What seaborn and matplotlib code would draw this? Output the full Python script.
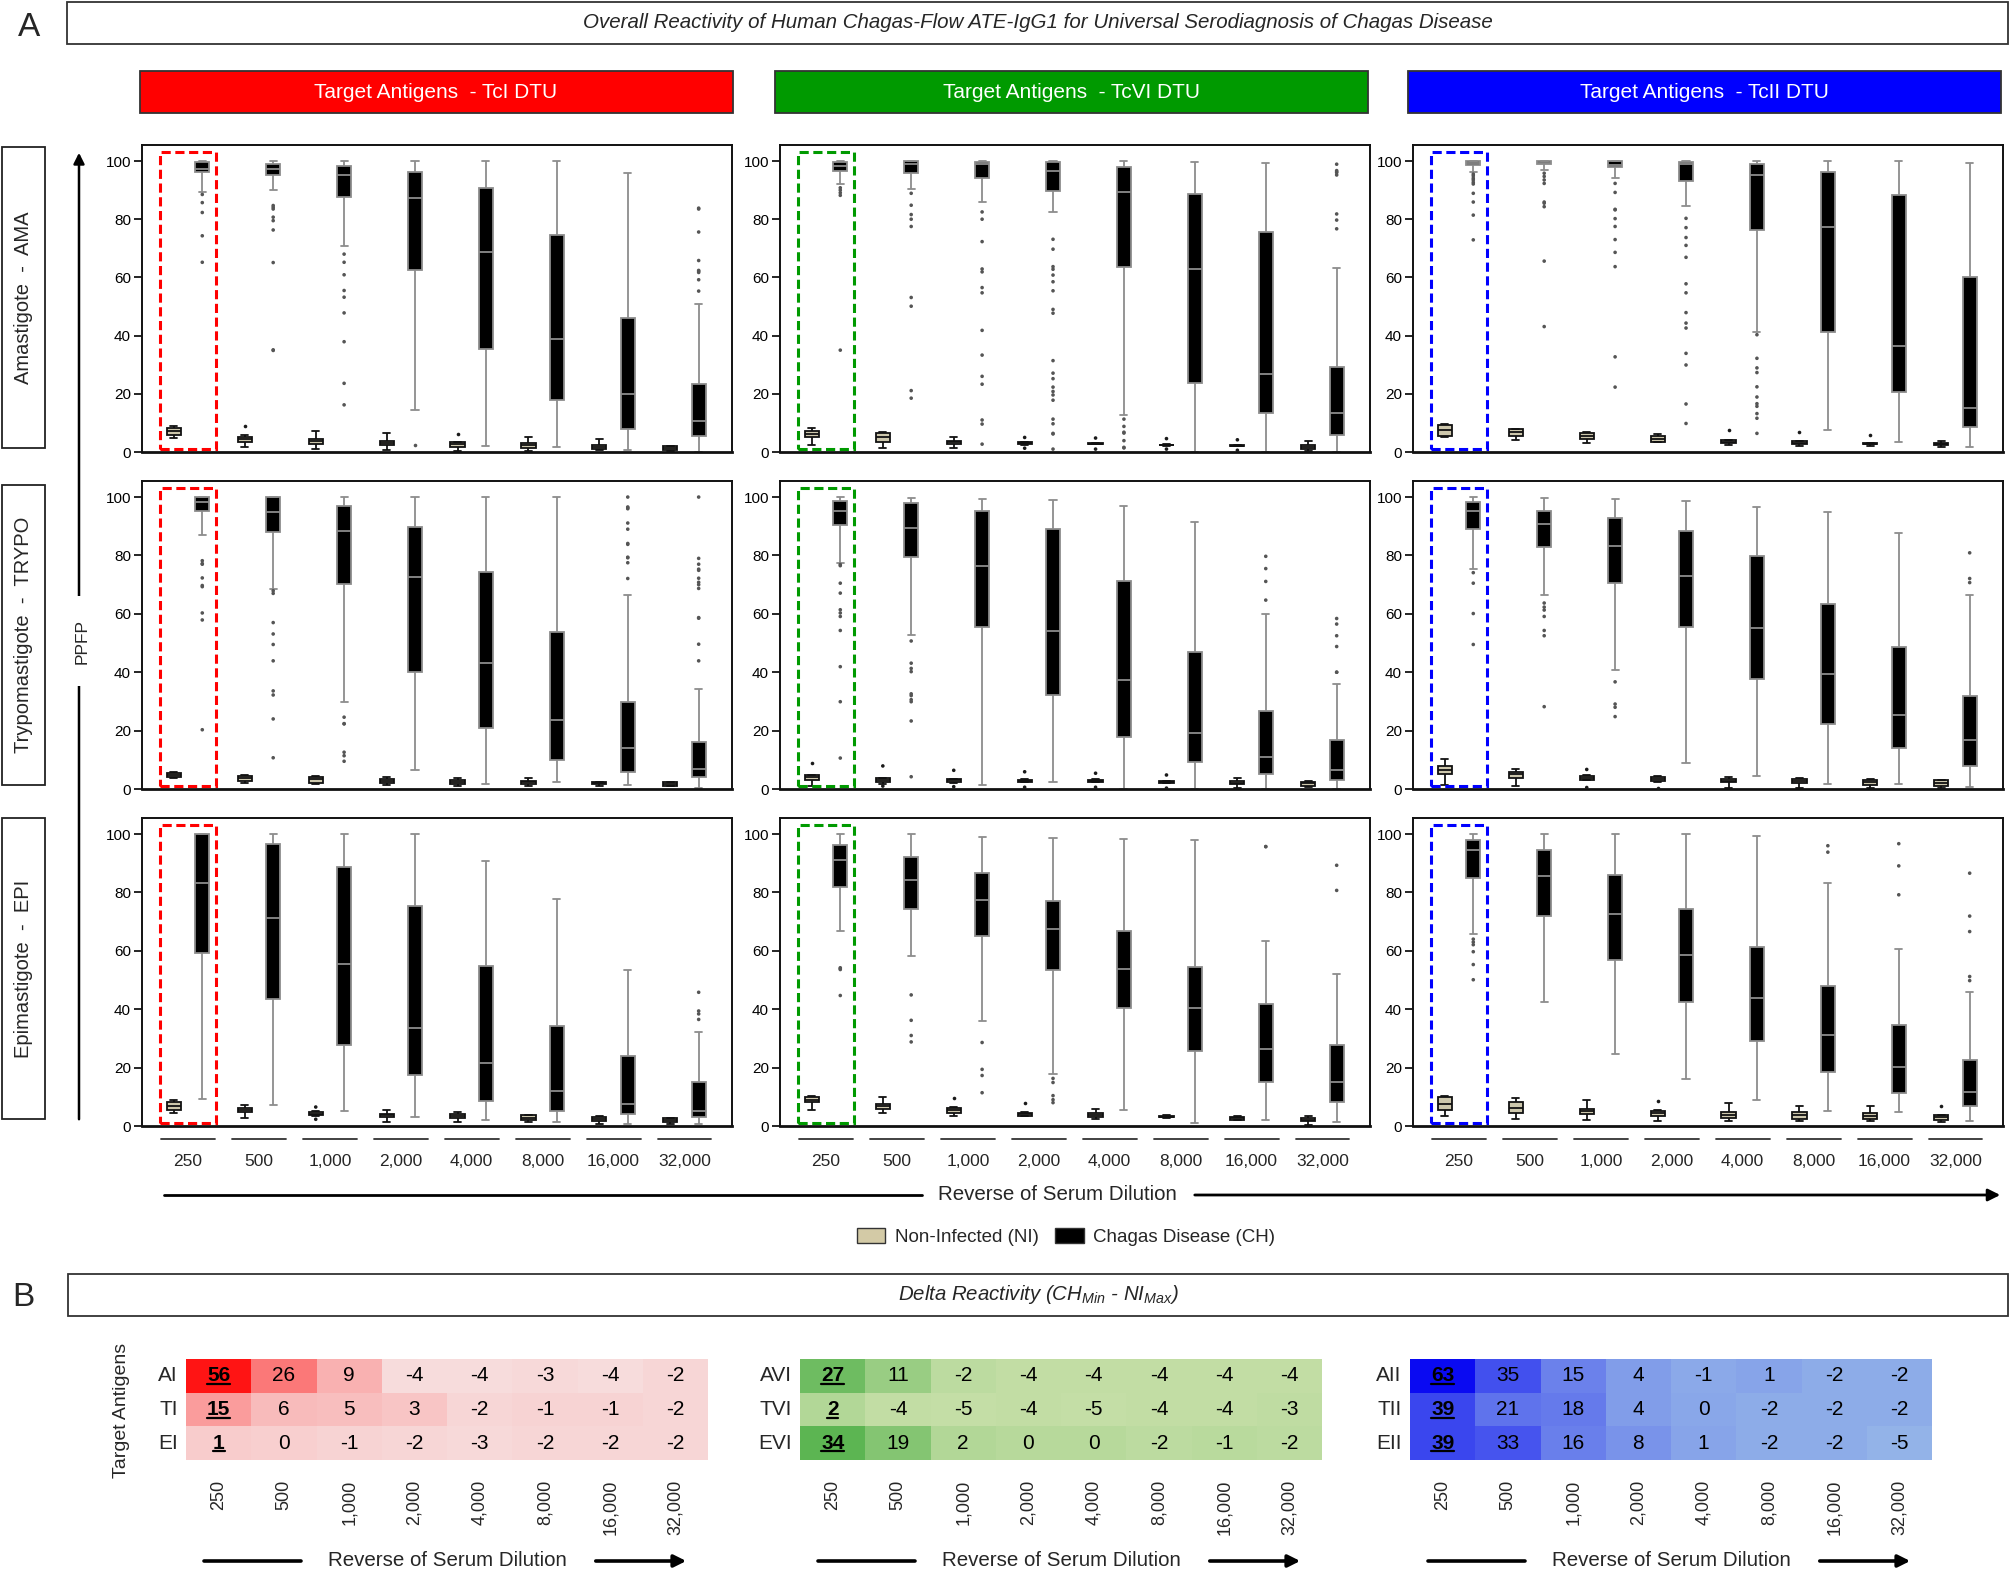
import numpy as np
import pandas as pd
import matplotlib
matplotlib.use("Agg")
import matplotlib.pyplot as plt
import seaborn as sns
from matplotlib.patches import Rectangle, FancyArrowPatch, Patch
from matplotlib.lines import Line2D
from matplotlib.colors import LinearSegmentedColormap
from matplotlib.transforms import blended_transform_factory

sns.set_theme(style="ticks")
plt.rcParams["font.family"] = ["Liberation Sans", "DejaVu Sans"]
plt.rcParams["mathtext.fontset"] = "custom"
plt.rcParams["mathtext.it"] = "Liberation Sans:italic"
plt.rcParams["mathtext.rm"] = "Liberation Sans:italic"

# ---------------------------------------------------------------- data
DILUTIONS = ["250", "500", "1,000", "2,000", "4,000", "8,000", "16,000", "32,000"]
DTUS = ["TcI", "TcVI", "TcII"]
STAGES = ["AMA", "TRYPO", "EPI"]
STAGE_LABELS = ["Amastigote  -  AMA", "Trypomastigote  -  TRYPO", "Epimastigote  -  EPI"]
GROUPS = ["NI", "CH"]
GROUP_LABELS = ["Non-Infected (NI)", "Chagas Disease (CH)"]

# five-number summaries per dilution: [lower whisker, Q1, median, Q3, upper whisker]
AMA_I_NI = [[4.8, 5.9, 7.1, 8.1, 9.0], [1.8, 3.5, 4.5, 5.3, 5.8], [1.0, 2.6, 3.7, 4.6, 7.1], [0.8, 2.3, 3.2, 3.9, 6.4],
            [0.2, 1.8, 2.6, 3.3, 3.6], [0.5, 1.3, 2.3, 3.2, 5.1], [0.6, 1.0, 1.8, 2.4, 4.5], [0.2, 0.6, 1.3, 1.9, 2.2]]
AMA_I_CH = [[89.5, 96.2, 97.3, 99.8, 100], [89.9, 95.1, 97.4, 99.1, 100], [70.8, 87.5, 95.2, 98.3, 100], [14.5, 62.7, 87.4, 96.2, 100],
            [2.2, 35.4, 68.8, 90.7, 100], [1.8, 17.8, 38.7, 74.7, 100], [0.8, 8.0, 19.8, 46.1, 95.8], [0.0, 5.6, 10.8, 23.5, 50.7]]
AMA_I_NI_OUT = [[], [9.0], [], [], [6.3], [], [], []]
AMA_I_CH_OUT = [[88.5, 85.7, 82.3, 74.3, 65.2], [84.7, 83.5, 84.1, 80.7, 79.5, 76.3, 65.1, 34.9, 35.1],
                [68.0, 65.2, 60.9, 55.5, 53.2, 47.8, 37.9, 23.6, 16.2], [2.4], [], [], [],
                [83.5, 83.8, 75.6, 65.8, 62.1, 62.4, 61.7, 59.2, 55.3]]

AMA_VI_NI = [[2.3, 5.0, 6.3, 7.3, 8.1], [1.4, 3.5, 5.0, 6.5, 6.9], [1.4, 2.7, 3.3, 3.9, 5.0], [2.4, 2.6, 3.1, 3.4, 3.6],
             [2.6, 2.8, 2.9, 3.0, 3.2], [2.2, 2.3, 2.4, 2.5, 2.6], [2.0, 2.1, 2.2, 2.3, 2.4], [0.2, 0.9, 1.7, 2.3, 3.9]]
AMA_VI_CH = [[92.0, 96.5, 98.3, 99.5, 100], [90.4, 95.8, 99.0, 99.9, 100], [85.9, 94.3, 98.9, 99.7, 100], [82.6, 89.8, 96.6, 99.5, 100],
             [12.8, 63.6, 89.2, 98.0, 100], [0.0, 23.8, 63.0, 88.8, 99.7], [0.0, 13.4, 26.8, 75.6, 99.2], [0.0, 5.8, 13.5, 29.1, 63.4]]
AMA_VI_NI_OUT = [[], [], [], [5.0, 1.3], [4.8, 1.0], [4.6, 1.0], [4.2, 0.6], []]
AMA_VI_CH_OUT = [[90.8, 90.0, 89.1, 88.2, 35.0], [88.9, 84.8, 81.6, 80.0, 77.5, 53.1, 50.1, 21.1, 18.5],
                 [82.5, 80.0, 72.3, 62.9, 61.9, 56.5, 54.7, 41.8, 33.3, 26.0, 23.3, 11.0, 9.6, 2.7],
                 [73.1, 69.7, 63.7, 62.8, 60.8, 58.5, 55.4, 49.0, 47.7, 31.4, 27.1, 25.2, 22.3, 20.8, 19.6, 17.8, 11.3, 9.7, 6.4, 6.2, 1.0],
                 [11.3, 8.8, 6.8, 6.5, 3.9, 1.6, 1.4], [], [], [98.9, 96.7, 96.3, 96.0, 95.2, 81.8, 79.7, 76.7]]

AMA_II_NI = [[5.0, 5.5, 7.4, 9.4, 9.7], [4.0, 5.5, 6.8, 7.8, 8.0], [3.1, 4.5, 5.5, 6.6, 6.9], [3.5, 3.6, 4.6, 5.4, 6.3],
             [2.4, 3.0, 3.5, 4.0, 4.2], [2.1, 2.7, 3.2, 3.7, 3.9], [1.9, 2.6, 2.8, 3.0, 3.1], [1.6, 2.4, 2.8, 3.1, 3.9]]
AMA_II_CH = [[96.1, 98.5, 99.4, 100, 100], [96.9, 99.0, 99.4, 100, 100], [94.1, 97.8, 98.7, 100, 100], [84.4, 93.0, 99.0, 99.8, 100],
             [41.4, 76.3, 95.3, 99.0, 100], [7.6, 41.3, 77.3, 96.3, 100], [3.3, 20.7, 36.3, 88.2, 100], [1.8, 8.5, 15.0, 60.0, 99.4]]
AMA_II_NI_OUT = [[], [], [], [], [7.7], [6.8], [5.8], []]
AMA_II_CH_OUT = [[95.5, 94.9, 94.1, 93.5, 92.7, 92.1, 88.9, 85.9, 81.4, 72.9], [95.8, 94.7, 93.5, 92.3, 85.9, 85.5, 84.3, 65.6, 43.1],
                 [92.3, 89.2, 83.4, 83.2, 80.2, 77.5, 73.0, 68.6, 63.7, 32.7, 22.3],
                 [80.3, 77.1, 73.7, 71.0, 66.9, 57.8, 54.7, 47.9, 44.3, 42.6, 33.9, 29.9, 16.5, 9.8],
                 [40.3, 32.2, 28.9, 27.3, 22.4, 18.9, 16.6, 15.7, 13.2, 11.6, 6.4], [], [], []]

TRYPO_I_NI = [[3.8, 4.1, 4.9, 5.6, 5.8], [2.1, 2.7, 3.7, 4.3, 4.8], [1.6, 2.2, 3.3, 4.1, 4.5], [1.3, 2.1, 2.9, 3.5, 4.0],
              [1.1, 1.8, 2.5, 3.1, 3.8], [0.9, 1.6, 2.3, 2.9, 3.7], [0.9, 1.8, 2.2, 2.4, 2.5], [0.9, 1.1, 1.7, 2.3, 2.4]]
TRYPO_I_CH = [[86.9, 95.1, 98.2, 100, 100], [68.5, 87.9, 95.0, 100, 100], [29.7, 70.2, 88.5, 96.8, 100], [6.5, 40.0, 72.7, 89.9, 100],
              [1.8, 21.0, 43.3, 74.5, 100], [2.3, 9.8, 23.7, 53.7, 100], [1.4, 5.7, 13.9, 29.9, 66.3], [0.5, 4.1, 6.7, 16.2, 34.3]]
TRYPO_I_NI_OUT = [[], [], [], [], [], [], [], []]
TRYPO_I_CH_OUT = [[77.0, 77.2, 78.2, 72.3, 69.7, 69.3, 60.3, 57.9, 20.3], [67.9, 67.0, 57.0, 53.1, 49.5, 43.9, 33.6, 32.2, 24.0, 10.7],
                  [24.6, 22.3, 22.4, 12.6, 11.4, 9.5], [], [], [],
                  [100, 96.0, 96.3, 96.6, 91.1, 89.0, 84.1, 83.8, 79.4, 79.2, 77.5, 72.1],
                  [100, 79.0, 77.0, 75.3, 74.9, 72.2, 70.8, 70.0, 68.7, 58.7, 58.5, 49.6, 43.9]]

TRYPO_VI_NI = [[1.1, 3.1, 4.0, 4.8, 4.9], [1.8, 2.3, 3.1, 3.7, 3.9], [2.0, 2.4, 3.0, 3.3, 3.5], [2.3, 2.5, 2.9, 3.2, 3.4],
               [2.3, 2.5, 2.9, 3.2, 3.4], [1.9, 2.1, 2.4, 2.7, 2.9], [0.3, 1.7, 2.2, 2.6, 3.8], [0.7, 0.9, 1.9, 2.5, 2.6]]
TRYPO_VI_CH = [[77.4, 90.5, 95.2, 98.7, 100], [52.7, 79.4, 89.5, 98.1, 99.8], [1.3, 55.5, 76.5, 95.3, 99.5], [2.3, 32.3, 54.2, 88.9, 99.0],
               [0.0, 17.7, 37.4, 71.3, 97.1], [0.0, 9.3, 19.3, 47.0, 91.3], [0.0, 5.3, 11.0, 26.7, 59.9], [0.0, 3.2, 6.6, 16.9, 36.0]]
TRYPO_VI_NI_OUT = [[8.9], [7.9, 1.0], [6.4, 0.8], [5.9, 0.6], [5.4, 0.6], [4.8, 0.3], [], []]
TRYPO_VI_CH_OUT = [[76.9, 76.5, 70.5, 67.1, 61.4, 60.3, 59.1, 54.3, 41.9, 29.9, 10.6],
                   [50.7, 43.1, 41.3, 40.2, 32.6, 32.0, 30.6, 29.9, 23.3, 4.2], [], [], [], [],
                   [79.7, 75.5, 71.1, 64.7], [58.4, 56.5, 52.5, 48.8, 40.0, 40.0]]

TRYPO_II_NI = [[1.5, 5.3, 6.6, 7.8, 10.3], [0.9, 3.8, 5.0, 5.7, 6.9], [3.0, 3.2, 3.9, 4.6, 4.8], [2.5, 2.7, 3.5, 4.2, 4.4],
               [0.3, 2.3, 2.9, 3.4, 4.1], [0.5, 2.2, 2.9, 3.4, 3.6], [0.5, 1.5, 2.5, 3.2, 3.4], [0.3, 1.0, 2.2, 3.0, 3.2]]
TRYPO_II_CH = [[75.4, 89.1, 95.3, 98.2, 100], [66.3, 82.9, 90.9, 95.3, 99.8], [40.9, 70.7, 83.4, 92.7, 99.5], [8.9, 55.4, 72.9, 88.3, 98.5],
               [4.3, 37.7, 55.1, 79.7, 96.5], [1.7, 22.3, 39.5, 63.5, 95.0], [1.6, 14.1, 25.5, 48.8, 87.8], [0.7, 7.9, 16.8, 31.9, 66.5]]
TRYPO_II_NI_OUT = [[], [], [6.7, 0.5], [0.5], [], [], [], []]
TRYPO_II_CH_OUT = [[74.1, 70.5, 60.1, 49.5], [63.7, 62.3, 61.3, 59.1, 54.3, 52.5, 28.2], [36.7, 29.1, 28.0, 24.8],
                   [], [], [], [], [80.9, 72.1, 70.7]]

EPI_I_NI = [[4.5, 5.4, 6.9, 8.2, 9.0], [2.7, 4.8, 5.6, 6.3, 7.2], [3.5, 3.7, 4.2, 4.8, 5.0], [1.3, 3.0, 3.7, 4.2, 5.5],
            [1.3, 2.6, 3.3, 4.0, 4.9], [1.2, 1.9, 2.9, 3.7, 3.9], [0.8, 1.8, 2.5, 3.1, 3.3], [0.8, 1.4, 2.2, 2.7, 2.8]]
EPI_I_CH = [[9.1, 59.3, 83.4, 100, 100], [7.1, 43.4, 71.3, 96.7, 100], [5.0, 27.9, 55.4, 88.8, 100], [3.2, 17.6, 33.6, 75.2, 100],
            [2.2, 8.7, 21.6, 54.9, 90.9], [1.4, 5.3, 12.1, 34.4, 77.7], [0.8, 4.0, 7.7, 23.9, 53.4], [0.8, 3.0, 5.3, 15.1, 32.3]]
EPI_I_NI_OUT = [[], [], [6.5, 2.3], [], [], [], [], []]
EPI_I_CH_OUT = [[], [], [], [], [], [], [], [45.8, 39.4, 38.4, 36.5]]

EPI_VI_NI = [[5.4, 8.1, 9.0, 9.9, 10.2], [4.6, 5.8, 6.9, 7.7, 9.9], [3.5, 4.5, 5.5, 6.3, 6.5], [3.3, 3.5, 4.1, 4.5, 4.7],
             [2.5, 3.1, 3.9, 4.5, 5.8], [2.8, 3.0, 3.2, 3.4, 3.6], [2.0, 2.2, 2.7, 3.1, 3.3], [0.5, 1.6, 2.2, 2.7, 3.4]]
EPI_VI_CH = [[66.9, 81.7, 91.1, 96.3, 100], [58.1, 74.4, 84.2, 92.1, 100], [36.1, 65.0, 77.3, 86.5, 98.9], [17.9, 53.6, 67.4, 77.0, 98.6],
             [5.4, 40.3, 53.8, 66.7, 98.3], [1.1, 25.7, 40.3, 54.6, 97.9], [2.1, 15.1, 26.5, 41.7, 63.5], [1.3, 8.1, 15.2, 27.8, 52.0]]
EPI_VI_NI_OUT = [[], [], [9.7], [8.0], [], [], [], []]
EPI_VI_CH_OUT = [[53.9, 53.6, 54.2, 44.7], [44.9, 36.2, 31.0, 28.8], [28.6, 19.4, 17.3, 11.4], [16.3, 14.9, 10.4, 9.0, 8.0],
                 [], [], [95.7, 95.7], [89.3, 80.7]]

EPI_II_NI = [[3.3, 5.5, 7.7, 9.9, 10.3], [2.4, 4.5, 6.3, 8.2, 9.5], [2.1, 4.0, 5.0, 5.9, 8.8], [1.7, 3.4, 4.5, 5.3, 5.5],
             [1.6, 2.7, 3.8, 4.7, 7.8], [1.6, 2.5, 3.8, 4.8, 6.9], [1.6, 2.4, 3.5, 4.6, 6.7], [1.4, 2.2, 3.0, 3.7, 3.9]]
EPI_II_CH = [[65.6, 84.8, 94.5, 98.1, 100], [42.6, 72.0, 85.7, 94.4, 100], [24.8, 56.9, 72.6, 85.9, 99.9], [16.2, 42.6, 58.5, 74.5, 99.9],
             [8.8, 29.0, 43.7, 61.3, 99.3], [5.1, 18.6, 31.3, 48.0, 83.4], [4.9, 11.3, 20.3, 34.5, 60.6], [1.6, 6.7, 11.7, 22.5, 45.8]]
EPI_II_NI_OUT = [[], [], [], [8.6], [], [], [], [6.9]]
EPI_II_CH_OUT = [[64.0, 63.0, 62.1, 59.7, 55.3, 50.1], [], [], [], [], [96.0, 93.8], [96.7, 89.1, 79.2],
                 [86.6, 71.9, 66.6, 51.2, 49.8]]

# Delta reactivity (CH min - NI max)
HM_ROWS_I = ["AI", "TI", "EI"]
HM_ROWS_VI = ["AVI", "TVI", "EVI"]
HM_ROWS_II = ["AII", "TII", "EII"]
HM_I = [[56, 26, 9, -4, -4, -3, -4, -2], [15, 6, 5, 3, -2, -1, -1, -2], [1, 0, -1, -2, -3, -2, -2, -2]]
HM_VI = [[27, 11, -2, -4, -4, -4, -4, -4], [2, -4, -5, -4, -5, -4, -4, -3], [34, 19, 2, 0, 0, -2, -1, -2]]
HM_II = [[63, 35, 15, 4, -1, 1, -2, -2], [39, 21, 18, 4, 0, -2, -2, -2], [39, 33, 16, 8, 1, -2, -2, -5]]

# ---------------------------------------------------------------- tables
BOXES = {
    ("AMA", "TcI"): (AMA_I_NI, AMA_I_CH, AMA_I_NI_OUT, AMA_I_CH_OUT),
    ("AMA", "TcVI"): (AMA_VI_NI, AMA_VI_CH, AMA_VI_NI_OUT, AMA_VI_CH_OUT),
    ("AMA", "TcII"): (AMA_II_NI, AMA_II_CH, AMA_II_NI_OUT, AMA_II_CH_OUT),
    ("TRYPO", "TcI"): (TRYPO_I_NI, TRYPO_I_CH, TRYPO_I_NI_OUT, TRYPO_I_CH_OUT),
    ("TRYPO", "TcVI"): (TRYPO_VI_NI, TRYPO_VI_CH, TRYPO_VI_NI_OUT, TRYPO_VI_CH_OUT),
    ("TRYPO", "TcII"): (TRYPO_II_NI, TRYPO_II_CH, TRYPO_II_NI_OUT, TRYPO_II_CH_OUT),
    ("EPI", "TcI"): (EPI_I_NI, EPI_I_CH, EPI_I_NI_OUT, EPI_I_CH_OUT),
    ("EPI", "TcVI"): (EPI_VI_NI, EPI_VI_CH, EPI_VI_NI_OUT, EPI_VI_CH_OUT),
    ("EPI", "TcII"): (EPI_II_NI, EPI_II_CH, EPI_II_NI_OUT, EPI_II_CH_OUT),
}
box_rows, out_rows = [], []
for (stage, dtu), (ni, ch, ni_out, ch_out) in BOXES.items():
    for grp, summ, outs in (("NI", ni, ni_out), ("CH", ch, ch_out)):
        for d, s, o in zip(DILUTIONS, summ, outs):
            for v in s:
                box_rows.append((stage, dtu, d, grp, v))
            for v in o:
                out_rows.append((stage, dtu, d, grp, v))
box_df = pd.DataFrame(box_rows, columns=["stage", "dtu", "dilution", "group", "value"])
out_df = pd.DataFrame(out_rows, columns=["stage", "dtu", "dilution", "group", "value"])

# ---------------------------------------------------------------- styles
W, H = 2010, 1571
def FX(x):
    return x / W
def FY(y):
    return 1 - y / H

NI_FILL = "#d3caa6"
CH_LINE = "#8c8c8c"
PALETTE = {"NI": NI_FILL, "CH": "#000000"}
OUT_PAL = {"NI": "#1a1a1a", "CH": "#555555"}
DTU_COLORS = ["#ff0000", "#009a00", "#0000ff"]
COL_LEFT = [142, 780, 1413]
COL_W = 590
ROW_TOP = [145, 481, 818]
ROW_BOT = [452, 789, 1126]
HDR_LEFT = [140, 775, 1408]

fig = plt.figure(figsize=(W / 100, H / 100), dpi=100)

def fig_box(x0, y0, x1, y1, fc="none", ec="#333333", lw=1.3):
    fig.add_artist(Rectangle((FX(x0), FY(y1)), FX(x1) - FX(x0), FY(y0) - FY(y1),
                             transform=fig.transFigure, facecolor=fc, edgecolor=ec, lw=lw))

# ---- part A heading
fig.text(FX(29), FY(27), "A", fontsize=24, ha="center", va="center")
fig_box(67, 2, 2008, 44)
fig.text(FX((67 + 2008) / 2), FY(23),
         "Overall Reactivity of Human Chagas-Flow ATE-IgG1 for Universal Serodiagnosis of Chagas Disease",
         fontsize=14.8, style="italic", ha="center", va="center")

for j, dtu in enumerate(DTUS):
    fig_box(HDR_LEFT[j], 71, HDR_LEFT[j] + 593, 113, fc=DTU_COLORS[j])
    fig.text(FX(HDR_LEFT[j] + 296), FY(92), f"Target Antigens  - {dtu} DTU", color="white",
             fontsize=15, ha="center", va="center")

# row label boxes
ROW_BOX = [(147, 448), (485, 785), (818, 1119)]
for r, lab in enumerate(STAGE_LABELS):
    y0, y1 = ROW_BOX[r]
    fig_box(2, y0, 45, y1, ec="#222222")
    fig.text(FX(23.5), FY((y0 + y1) / 2), lab, rotation=90, fontsize=14.5, ha="center", va="center")

# vertical PPFP arrow
fig.add_artist(FancyArrowPatch((FX(79), FY(1122)), (FX(79), FY(150)), transform=fig.transFigure,
                               arrowstyle="-|>", mutation_scale=16, lw=1.8, color="black"))
fig.text(FX(82), FY(641), "PPFP", rotation=90, fontsize=12.5, ha="center", va="center",
         bbox=dict(facecolor="white", edgecolor="none", pad=16))

# ---- box panels
for r, stage in enumerate(STAGES):
    for c, dtu in enumerate(DTUS):
        ax = fig.add_axes([FX(COL_LEFT[c]), FY(ROW_BOT[r]), COL_W / W, (ROW_BOT[r] - ROW_TOP[r]) / H])
        sub = box_df[(box_df.stage == stage) & (box_df.dtu == dtu)]
        sns.boxplot(data=sub, x="dilution", y="value", hue="group", order=DILUTIONS, hue_order=GROUPS,
                    palette=PALETTE, width=0.8, gap=0.5, whis=(0, 100), showfliers=False,
                    linewidth=1.3, legend=False, ax=ax)
        for cont, col in zip(ax.containers, ["#111111", CH_LINE]):
            for art in cont.boxes:
                art.set_edgecolor(col)
            for part in (cont.medians, cont.whiskers, cont.caps):
                for ln in part:
                    ln.set_color(col)
        osub = out_df[(out_df.stage == stage) & (out_df.dtu == dtu)]
        sns.stripplot(data=osub, x="dilution", y="value", hue="group", order=DILUTIONS, hue_order=GROUPS,
                      palette=OUT_PAL, dodge=True, jitter=False, size=2.6, linewidth=0, legend=False, ax=ax)
        ax.set_xlim(-0.65, 7.67)
        ax.set_ylim(0, 105.5)
        ax.set_yticks([0, 20, 40, 60, 80, 100])
        ax.tick_params(axis="y", direction="out", length=6, width=1.2, labelsize=11, pad=2, colors="black")
        ax.tick_params(axis="x", length=0)
        ax.set_xlabel("")
        ax.set_ylabel("")
        for sp in ax.spines.values():
            sp.set_visible(True)
            sp.set_color("#111111")
            sp.set_linewidth(1.4)
        ax.spines["bottom"].set_linewidth(2.0)
        ax.add_patch(Rectangle((-0.39, 1.0), 0.79, 102.2, fill=False, edgecolor=DTU_COLORS[c],
                               ls=(0, (3, 1.5)), lw=2.2, zorder=5))
        if r == 2:
            ax.set_xticks(range(len(DILUTIONS)))
            ax.set_xticklabels(DILUTIONS, fontsize=12.5)
            ax.tick_params(axis="x", pad=20)
            trans = blended_transform_factory(ax.transData, ax.transAxes)
            for i in range(len(DILUTIONS)):
                ax.add_line(Line2D([i - 0.38, i + 0.38], [-0.042, -0.042], transform=trans,
                                   color="#333333", lw=1.3, clip_on=False))
        else:
            ax.set_xticklabels([])

# long dilution arrow of part A
def dilution_arrow(x0, xt0, xt1, x1, y, fs, lw):
    fig.add_artist(Line2D([FX(x0), FX(xt0)], [FY(y), FY(y)], transform=fig.transFigure, color="black", lw=lw))
    fig.add_artist(FancyArrowPatch((FX(xt1), FY(y)), (FX(x1), FY(y)), transform=fig.transFigure,
                                   arrowstyle="-|>", mutation_scale=18, lw=lw, color="black"))
    fig.text(FX((xt0 + xt1) / 2), FY(y), "Reverse of Serum Dilution", fontsize=fs, ha="center", va="center")

dilution_arrow(164, 922, 1192, 2003, 1195, 14.8, 2.0)

# legend
handles = [Patch(facecolor=NI_FILL, edgecolor="#333333", lw=1.0), Patch(facecolor="black", edgecolor="#333333", lw=1.0)]
fig.legend(handles, GROUP_LABELS, loc="center", bbox_to_anchor=(FX(1066), FY(1237)), ncol=2, frameon=False,
           fontsize=13.5, handlelength=1.5, handleheight=0.9, columnspacing=0.9, handletextpad=0.5)

# ---- part B
fig.text(FX(23), FY(1297), "B", fontsize=24, ha="center", va="center")
fig_box(68, 1274, 2008, 1316)
fig.text(FX((68 + 2008) / 2), FY(1295), r"Delta Reactivity (CH$_{Min}$ - NI$_{Max}$)",
         fontsize=14.7, style="italic", ha="center", va="center")

HM_LEFT = [186, 800, 1410]
HM_W = 522
HM_SETS = [(HM_I, HM_ROWS_I, ["#f7dcdc", "#ff1414"]),
           (HM_VI, HM_ROWS_VI, ["#c4dea6", "#5cb552"]),
           (HM_II, HM_ROWS_II, ["#93b3e8", "#0a0af2"])]
fig.canvas.draw()
for k, (vals, rows, cols) in enumerate(HM_SETS):
    hax = fig.add_axes([FX(HM_LEFT[k]), FY(1460), HM_W / W, 101 / H])
    hdf = pd.DataFrame(vals, index=rows, columns=DILUTIONS)
    cmap = LinearSegmentedColormap.from_list(f"hm{k}", cols)
    arr = np.array(vals)
    sns.heatmap(hdf, ax=hax, cmap=cmap, vmin=arr.min(), vmax=arr.max(), annot=True, fmt="d", cbar=False,
                annot_kws={"fontsize": 15, "color": "black"}, linewidths=0)
    hax.set_xticklabels(DILUTIONS, rotation=90, fontsize=13)
    hax.set_yticklabels(rows, rotation=0, fontsize=15)
    hax.tick_params(axis="x", length=0, pad=14)
    hax.tick_params(axis="y", length=0, pad=6)
    hax.set_xlabel("")
    hax.set_ylabel("")
    renderer = fig.canvas.get_renderer()
    for t in hax.texts:
        x, y = t.get_position()
        if abs(x - 0.5) < 1e-6:
            t.set_fontweight("bold")
            bb = t.get_window_extent(renderer).transformed(hax.transData.inverted())
            yb = max(bb.y0, bb.y1) - 0.04
            hax.add_line(Line2D([bb.x0, bb.x1], [yb, yb], color="black", lw=1.6))
    L = HM_LEFT[k]
    dilution_arrow(L + 18, L + 115, L + 407, L + 503, 1561, 14.8, 2.6)

fig.text(FX(122), FY(1410), "Target Antigens", rotation=90, fontsize=14, ha="center", va="center")

fig.savefig("out.png", dpi=100)
